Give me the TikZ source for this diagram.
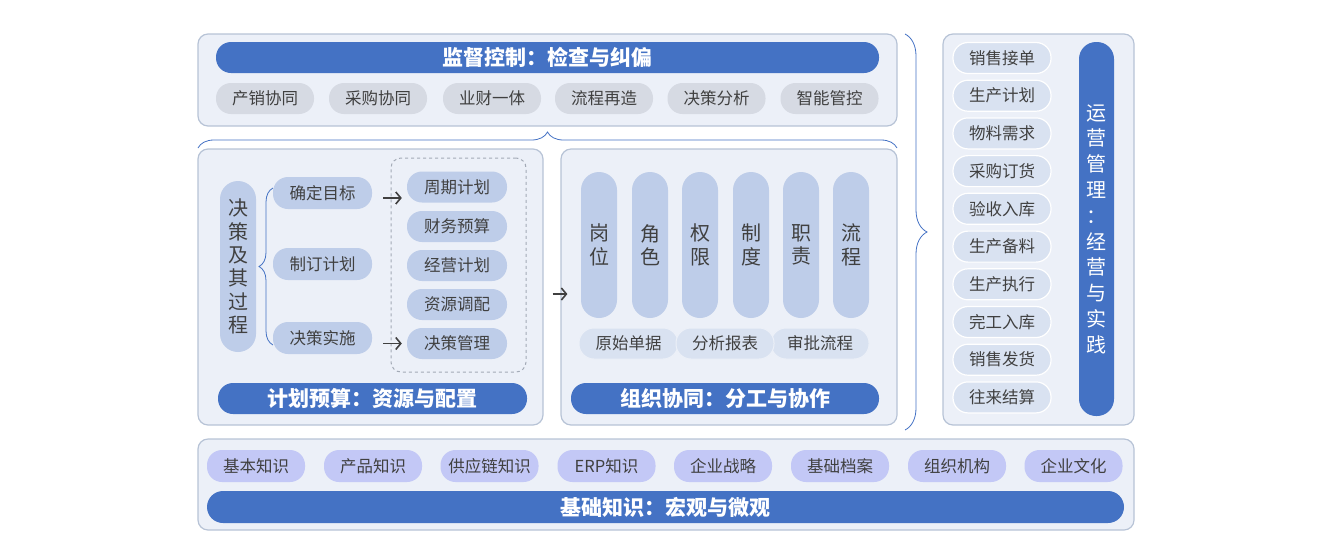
\documentclass[tikz,border=0pt]{standalone}
\usepackage{fontspec}
\setmainfont{Noto Sans CJK SC}
\usetikzlibrary{positioning,arrows.meta,decorations.pathreplacing}
\definecolor{panelfill}{HTML}{ECF0F8}
\definecolor{panelline}{HTML}{B7C3D6}
\definecolor{titleblue}{HTML}{4472C4}
\definecolor{greypill}{HTML}{D6DAE3}
\definecolor{bluepill}{HTML}{BECDE9}
\definecolor{palepill}{HTML}{D9E2F1}
\definecolor{lilacpill}{HTML}{C3C8F6}
\definecolor{textgrey}{HTML}{404040}
\definecolor{dashgrey}{HTML}{A3AAB6}

\begin{document}
\begin{tikzpicture}[x=1pt,y=-1pt,
	panel/.style={draw=panelline,line width=1.2pt,fill=panelfill,rounded corners=10pt,inner sep=0pt},
	titlebar/.style={fill=titleblue,text=white,rounded corners=15pt,inner sep=0pt,font=\fontsize{21}{24}\selectfont\bfseries},
	pill/.style={rounded corners=15pt,inner sep=0pt,text=textgrey,minimum width=98pt,minimum height=31pt,font=\fontsize{16.5}{18}\selectfont},
	tallpill/.style={fill=bluepill,rounded corners=18pt,inner sep=0pt,text=textgrey,minimum width=36pt,align=center,font=\fontsize{20}{23.4}\selectfont},
	bracket/.style={draw=titleblue,line width=0.8pt,decorate},
	arr/.style={draw=textgrey,line width=1.6pt,-{Straight Barb[length=5pt,width=12pt]}}]

	\useasboundingbox (0,0) rectangle (1332,558);

	% top: supervision
	\node at (547.5,80)   [panel,minimum width=699pt,minimum height=92pt] (top) {};
	\node at (547.5,57.5) [titlebar,minimum width=663pt,minimum height=31pt] (top_title) {监督控制：检查与纠偏};
	\node at (265,98.5)   [pill,fill=greypill] (chanxiao)  {产销协同};
	\node at (378,98.5)   [pill,fill=greypill] (caigou)    {采购协同};
	\node at (492,98.5)   [pill,fill=greypill] (yecai)     {业财一体};
	\node at (604,98.5)   [pill,fill=greypill] (liucheng)  {流程再造};
	\node at (716.5,98.5) [pill,fill=greypill] (juece)     {决策分析};
	\node at (829.5,98.5) [pill,fill=greypill] (zhineng)   {智能管控};

	\coordinate (brace_l) at (198,148);
	\coordinate (brace_r) at (897,148);
	\draw[bracket,decoration={brace,amplitude=16pt}] (brace_l) -- (brace_r);

	% left: planning and budget
	\node at (370.5,287)  [panel,minimum width=345pt,minimum height=276pt] (plan) {};
	\node at (458.5,265)  [draw=dashgrey,dashed,line width=1pt,rounded corners=10pt,minimum width=135pt,minimum height=214pt] (plan_box) {};
	\node at (238,266.5)  [tallpill,minimum height=171pt] (process) {决\\策\\及\\其\\过\\程};
	\node at (322.5,193)  [pill,fill=bluepill,minimum width=99pt,minimum height=32pt] (goal)   {确定目标};
	\node at (322.5,264)  [pill,fill=bluepill,minimum width=99pt,minimum height=32pt] (draft)  {制订计划};
	\node at (322.5,338)  [pill,fill=bluepill,minimum width=99pt,minimum height=32pt] (impl)   {决策实施};
	\node at (457,187)    [pill,fill=bluepill,minimum width=100pt] (cycle)   {周期计划};
	\node at (457,226.5)  [pill,fill=bluepill,minimum width=100pt] (finance) {财务预算};
	\node at (457,265.5)  [pill,fill=bluepill,minimum width=100pt] (operate) {经营计划};
	\node at (457,304.5)  [pill,fill=bluepill,minimum width=100pt] (resource){资源调配};
	\node at (457,343.5)  [pill,fill=bluepill,minimum width=100pt] (mgmt)    {决策管理};
	\node at (372.5,398.5)[titlebar,minimum width=309pt,minimum height=31pt] (plan_title) {计划预算：资源与配置};

	\coordinate (fork_b) at (273,345);
	\coordinate (fork_t) at (273,188);
	\draw[bracket,decoration={brace,amplitude=14pt}] (fork_b) -- (fork_t);
	\draw[arr,shorten <=11pt,shorten >=5pt] ([yshift=-5pt]goal.east) -- ([yshift=-5pt]goal.east -| cycle.west);
	\draw[arr,shorten <=11pt,shorten >=5pt] (impl.east |- mgmt.west) -- (mgmt.west);

	% middle: organisation
	\node at (729,287)    [panel,minimum width=336pt,minimum height=276pt] (org) {};
	\node at (599,245)    [tallpill,minimum height=146pt] (gangwei) {岗\\位};
	\node at (650,245)    [tallpill,minimum height=146pt] (jiaose)  {角\\色};
	\node at (700,245)    [tallpill,minimum height=146pt] (quanxian){权\\限};
	\node at (751,245)    [tallpill,minimum height=146pt] (zhidu)   {制\\度};
	\node at (801,245)    [tallpill,minimum height=146pt] (zhize)   {职\\责};
	\node at (851,245)    [tallpill,minimum height=146pt] (liuch)   {流\\程};
	\node at (628.5,343.5)[pill,fill=palepill,draw=panelfill,line width=1pt,minimum width=99pt] (danju)  {原始单据};
	\node at (820,343.5)  [pill,fill=palepill,draw=panelfill,line width=1pt] (shenpi) {审批流程};
	\node at (725,343.5)  [pill,fill=palepill,draw=panelfill,line width=1pt] (baobiao){分析报表};
	\node at (725,398.5)  [titlebar,minimum width=308pt,minimum height=31pt] (org_title) {组织协同：分工与协作};

	\draw[arr,shorten <=9pt,shorten >=-7pt] ([yshift=-7pt]plan.east) -- ([yshift=-7pt]org.west);

	% right: operations
	\coordinate (ops_t) at (905,34);
	\coordinate (ops_b) at (905,430);
	\draw[bracket,decoration={brace,amplitude=22pt}] (ops_t) -- (ops_b);
	\node at (1038.5,229.5) [panel,minimum width=191pt,minimum height=391pt] (ops) {};
	\node at (1002,58)    [pill,fill=palepill,draw=white,line width=1.2pt] (xiaoshou) {销售接单};
	\node at (1002,95.7)  [pill,fill=palepill,draw=white,line width=1.2pt] (shengchan){生产计划};
	\node at (1002,133.4) [pill,fill=palepill,draw=white,line width=1.2pt] (wuliao)   {物料需求};
	\node at (1002,171.1) [pill,fill=palepill,draw=white,line width=1.2pt] (dinghuo)  {采购订货};
	\node at (1002,208.8) [pill,fill=palepill,draw=white,line width=1.2pt] (yanshou)  {验收入库};
	\node at (1002,246.6) [pill,fill=palepill,draw=white,line width=1.2pt] (beiliao)  {生产备料};
	\node at (1002,284.3) [pill,fill=palepill,draw=white,line width=1.2pt] (zhixing)  {生产执行};
	\node at (1002,322)   [pill,fill=palepill,draw=white,line width=1.2pt] (wangong)  {完工入库};
	\node at (1002,359.7) [pill,fill=palepill,draw=white,line width=1.2pt] (fahuo)    {销售发货};
	\node at (1002,397.4) [pill,fill=palepill,draw=white,line width=1.2pt] (jiesuan)  {往来结算};
	\node at (1096.5,229) [titlebar,rounded corners=17pt,minimum width=35pt,minimum height=374pt,align=center,font=\fontsize{20}{25.8}\selectfont] (ops_title) {运\\营\\管\\理\\：\\经\\营\\与\\实\\践};

	% bottom: foundations
	\node at (666,484.5)  [panel,minimum width=936pt,minimum height=91pt] (base) {};
	\node at (256,466)    [pill,fill=lilacpill,minimum height=32pt] (jiben)    {基本知识};
	\node at (373,466)    [pill,fill=lilacpill,minimum height=32pt] (chanpin)  {产品知识};
	\node at (489.5,466)  [pill,fill=lilacpill,minimum height=32pt] (gongying) {供应链知识};
	\node at (606.5,466)  [pill,fill=lilacpill,minimum height=32pt] (erp)      {ERP知识};
	\node at (723,466)    [pill,fill=lilacpill,minimum height=32pt] (zhanlue)  {企业战略};
	\node at (840,466)    [pill,fill=lilacpill,minimum height=32pt] (dangan)   {基础档案};
	\node at (957,466)    [pill,fill=lilacpill,minimum height=32pt] (jigou)    {组织机构};
	\node at (1073.5,466) [pill,fill=lilacpill,minimum height=32pt] (wenhua)   {企业文化};
	\node at (665.5,507)  [titlebar,rounded corners=16pt,minimum width=917pt,minimum height=32pt] (base_title) {基础知识：宏观与微观};
\end{tikzpicture}
\end{document}
